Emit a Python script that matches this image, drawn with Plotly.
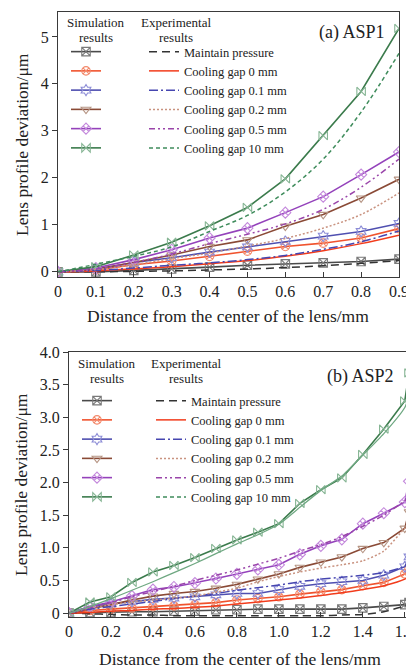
import plotly.graph_objects as go

# ---------------- data: (a) ASP1 ----------------
x_a = [0, 0.1, 0.2, 0.3, 0.4, 0.5, 0.6, 0.7, 0.8, 0.9]
sim_a_mp = [0, 0.0, 0.03, 0.06, 0.10, 0.14, 0.17, 0.19, 0.22, 0.27]
sim_a_0 = [0, 0.04, 0.15, 0.23, 0.33, 0.44, 0.54, 0.61, 0.72, 0.92]
sim_a_01 = [0, 0.05, 0.20, 0.30, 0.42, 0.53, 0.65, 0.76, 0.86, 1.03]
sim_a_02 = [0, 0.06, 0.20, 0.36, 0.54, 0.68, 0.97, 1.22, 1.57, 1.97]
sim_a_05 = [0, 0.08, 0.26, 0.47, 0.72, 0.93, 1.26, 1.60, 2.07, 2.55]
sim_a_10 = [0, 0.11, 0.36, 0.63, 0.98, 1.37, 1.98, 2.90, 3.84, 5.18]
exp_a_mp = [0, 0.0, 0.01, 0.02, 0.04, 0.06, 0.09, 0.13, 0.18, 0.24]
exp_a_0 = [0, 0.02, 0.06, 0.11, 0.17, 0.24, 0.33, 0.45, 0.60, 0.78]
exp_a_01 = [0, 0.03, 0.08, 0.14, 0.19, 0.26, 0.35, 0.48, 0.64, 0.87]
exp_a_02 = [0, 0.05, 0.15, 0.28, 0.40, 0.55, 0.71, 0.93, 1.22, 1.68]
exp_a_05 = [0, 0.06, 0.20, 0.38, 0.60, 0.80, 1.02, 1.33, 1.80, 2.40]
exp_a_10 = [0, 0.16, 0.33, 0.53, 0.86, 1.20, 1.70, 2.40, 3.40, 4.65]

# ---------------- data: (b) ASP2 ----------------
x_b = [0, 0.1, 0.2, 0.3, 0.4, 0.5, 0.6, 0.7, 0.8, 0.9, 1.0, 1.1, 1.2, 1.3, 1.4, 1.5, 1.6, 1.62]
sim_b_mp = [0, 0.01, 0.01, 0.02, 0.02, 0.03, 0.03, 0.05, 0.05, 0.06, 0.06, 0.06, 0.06, 0.06, 0.08, 0.10, 0.13, 0.16]
sim_b_0 = [0, 0.04, 0.06, 0.08, 0.10, 0.11, 0.13, 0.16, 0.20, 0.22, 0.25, 0.29, 0.33, 0.36, 0.42, 0.47, 0.60, 0.68]
sim_b_01 = [0, 0.10, 0.14, 0.18, 0.21, 0.23, 0.25, 0.28, 0.30, 0.30, 0.36, 0.41, 0.45, 0.48, 0.50, 0.58, 0.71, 0.86]
sim_b_02 = [0, 0.06, 0.13, 0.20, 0.26, 0.30, 0.33, 0.38, 0.44, 0.52, 0.60, 0.70, 0.78, 0.86, 0.99, 1.08, 1.30, 1.55]
sim_b_05 = [0, 0.10, 0.17, 0.26, 0.36, 0.40, 0.46, 0.53, 0.60, 0.67, 0.74, 0.90, 1.03, 1.13, 1.37, 1.53, 1.70, 2.02]
sim_b_10 = [0, 0.17, 0.25, 0.47, 0.63, 0.73, 0.85, 0.99, 1.12, 1.24, 1.37, 1.68, 1.89, 2.07, 2.43, 2.82, 3.25, 3.68]
exp_b_mp = [0, -0.01, -0.02, -0.03, -0.03, -0.04, -0.04, -0.04, -0.04, -0.04, -0.04, -0.04, -0.04, -0.03, -0.02, 0.02, 0.11, 0.14]
exp_b_0 = [0, 0.01, 0.03, 0.04, 0.06, 0.07, 0.09, 0.11, 0.14, 0.17, 0.20, 0.23, 0.27, 0.31, 0.36, 0.42, 0.52, 0.57]
exp_b_01 = [0, 0.06, 0.10, 0.14, 0.18, 0.22, 0.26, 0.30, 0.35, 0.39, 0.43, 0.48, 0.52, 0.55, 0.58, 0.62, 0.72, 0.79]
exp_b_02 = [0, 0.08, 0.13, 0.17, 0.20, 0.23, 0.26, 0.32, 0.38, 0.48, 0.56, 0.63, 0.69, 0.74, 0.80, 0.95, 1.30, 1.35]
exp_b_05 = [0, 0.08, 0.16, 0.25, 0.33, 0.41, 0.50, 0.58, 0.66, 0.75, 0.84, 0.95, 1.05, 1.17, 1.33, 1.50, 1.72, 1.78]
exp_b_10 = [0, 0.10, 0.22, 0.35, 0.48, 0.62, 0.76, 0.91, 1.06, 1.20, 1.36, 1.62, 1.88, 2.10, 2.42, 2.75, 3.15, 3.33]

exp_names = ["Maintain pressure", "Cooling gap 0 mm", "Cooling gap 0.1 mm",
             "Cooling gap 0.2 mm", "Cooling gap 0.5 mm", "Cooling gap 10 mm"]

x_a_ticks = [0, 0.1, 0.2, 0.3, 0.4, 0.5, 0.6, 0.7, 0.8, 0.9]
x_a_ticktext = ["0", "0.1", "0.2", "0.3", "0.4", "0.5", "0.6", "0.7", "0.8", "0.9"]
y_a_ticks = [0, 1, 2, 3, 4, 5]
x_b_ticks = [0, 0.2, 0.4, 0.6, 0.8, 1.0, 1.2, 1.4, 1.6]
x_b_ticktext = ["0", "0.2", "0.4", "0.6", "0.8", "1.0", "1.2", "1.4", "1.6"]
y_b_ticks = [0, 0.5, 1.0, 1.5, 2.0, 2.5, 3.0, 3.5, 4.0]
y_b_ticktext = ["0", "0.5", "1.0", "1.5", "2.0", "2.5", "3.0", "3.5", "4.0"]

# ---------------- styles ----------------
FONT = "Liberation Serif"
sim_line_colors = ["#4a4a4a", "#f0532e", "#4f4fb0", "#8a4a36", "#9442bb", "#3b7b4c"]
sim_marker_colors = ["#7a7a7a", "#f38a6c", "#8c8cd6", "#b59483", "#c489dc", "#86b594"]
sim_symbols = ["square-x-open", "circle-x-open", "hexagram-open",
               "triangle-down-open", "diamond-x-open", "bowtie-open"]
exp_colors = ["#333333", "#f23c1c", "#4646b0", "#c99380", "#9a45aa", "#3f8c5c"]
exp_dashes = ["8px,5px", "solid", "9px,3px,2px,3px", "2px,2px", "6px,3px,2px,3px,2px,3px", "4px,3px"]

fig = go.Figure()


def add_panel(xv, sims, exps, xa, ya, leg_sim, leg_exp, smooth, bottom=False):
    for i, ys in enumerate(sims):
        fig.add_trace(go.Scatter(
            x=xv, y=ys, xaxis=xa, yaxis=ya, mode="lines+markers", name=" ",
            legend=leg_sim,
            line=dict(color=sim_line_colors[i], width=1.6),
            marker=dict(symbol=sim_symbols[i], size=8.5, color=sim_marker_colors[i],
                        line=dict(width=1.1, color=sim_marker_colors[i]))))
    for i, ys in enumerate(exps):
        dash = exp_dashes[i]
        color = exp_colors[i]
        width = 1.5
        legend_only = False
        if bottom and i == 5:
            dash = "solid"
            color = "#6fa882"
            width = 1.3
            legend_only = True
        fig.add_trace(go.Scatter(
            x=xv, y=ys, xaxis=xa, yaxis=ya, mode="lines", name=exp_names[i],
            legend=leg_exp, showlegend=not legend_only,
            line=dict(color=color, width=width, dash=dash, shape="spline", smoothing=smooth)))
        if legend_only:
            fig.add_trace(go.Scatter(
                x=[None], y=[None], xaxis=xa, yaxis=ya, mode="lines", name=exp_names[i],
                legend=leg_exp,
                line=dict(color=exp_colors[i], width=1.5, dash=exp_dashes[i])))


add_panel(x_a, [sim_a_mp, sim_a_0, sim_a_01, sim_a_02, sim_a_05, sim_a_10],
          [exp_a_mp, exp_a_0, exp_a_01, exp_a_02, exp_a_05, exp_a_10],
          "x", "y", "legend", "legend2", 1.0)
add_panel(x_b, [sim_b_mp, sim_b_0, sim_b_01, sim_b_02, sim_b_05, sim_b_10],
          [exp_b_mp, exp_b_0, exp_b_01, exp_b_02, exp_b_05, exp_b_10],
          "x2", "y2", "legend3", "legend4", 0.6, bottom=True)

# the page body has an 8px margin, so the figure is offset by 8px
OFF = 8
W, H = 414 - OFF, 670 - OFF


def px_x(p):
    return (p - OFF) / W


def px_y(p):
    return 1 - (p - OFF) / H


axis_common = dict(showline=True, mirror=True, linecolor="#3a3a3a", linewidth=1.3,
                   showgrid=False, zeroline=False, automargin=False,
                   tickfont=dict(family=FONT, size=16, color="#222"),
                   tickcolor="#3a3a3a", ticklen=5, tickwidth=1.2)

legend_common = dict(bgcolor="rgba(0,0,0,0)", borderwidth=0,
                     font=dict(family=FONT, size=12.5, color="#222"),
                     itemclick=False, itemdoubleclick=False,
                     xanchor="left", yanchor="top", tracegroupgap=0)

fig.update_layout(
    template="none",
    width=W, height=H,
    margin=dict(l=0, r=0, t=0, b=0, autoexpand=False),
    paper_bgcolor="white", plot_bgcolor="white",
    font=dict(family=FONT, color="#222"),
    xaxis=dict(domain=[px_x(58), px_x(399)], range=[0, 0.9], anchor="y",
               tickvals=x_a_ticks, ticktext=x_a_ticktext, ticks="inside",
               ticklabeloverflow="allow", **axis_common),
    yaxis=dict(domain=[px_y(277), px_y(12)], range=[-0.11, 5.53], anchor="x",
               tickvals=y_a_ticks, ticks="outside", **axis_common),
    xaxis2=dict(domain=[px_x(69), px_x(409)], range=[0, 1.62], anchor="y2",
                tickvals=x_b_ticks, ticktext=x_b_ticktext, ticks="inside",
                ticklabeloverflow="allow", **axis_common),
    yaxis2=dict(domain=[px_y(617), px_y(352)], range=[-0.06, 4.0], anchor="x2",
                tickvals=y_b_ticks, ticktext=y_b_ticktext, ticks="outside", **axis_common),
    legend=dict(x=px_x(66), y=px_y(37), **legend_common),
    legend2=dict(x=px_x(144), y=px_y(37), **legend_common),
    legend3=dict(x=px_x(77), y=px_y(386), **legend_common),
    legend4=dict(x=px_x(151), y=px_y(386), **legend_common),
    showlegend=True,
)


def ann(text, x, y, size, angle=0):
    return dict(text=text, x=px_x(x), y=px_y(y), xref="paper", yref="paper",
                xanchor="center", yanchor="middle", showarrow=False, textangle=angle,
                font=dict(family=FONT, size=size, color="#222"))


annotations = [
    ann("(a) ASP1", 352, 33, 18),
    ann("(b) ASP2", 360, 376, 18),
    ann("Simulation", 96, 23, 13),
    ann("results", 96, 37, 13),
    ann("Experimental", 176, 23, 13),
    ann("results", 176, 37, 13),
    ann("Simulation", 107, 363, 13),
    ann("results", 107, 378, 13),
    ann("Experimental", 186, 363, 13),
    ann("results", 186, 378, 13),
    ann("Distance from the center of the lens/mm", 228, 316, 17.5),
    ann("Distance from the center of the lens/mm", 240, 659, 17.5),
    ann("Lens profile deviation/μm", 22, 145, 17.5, -90),
    ann("Lens profile deviation/μm", 21, 485, 17.5, -90),
]
fig.update_layout(annotations=annotations)

fig.write_html("out.html")
